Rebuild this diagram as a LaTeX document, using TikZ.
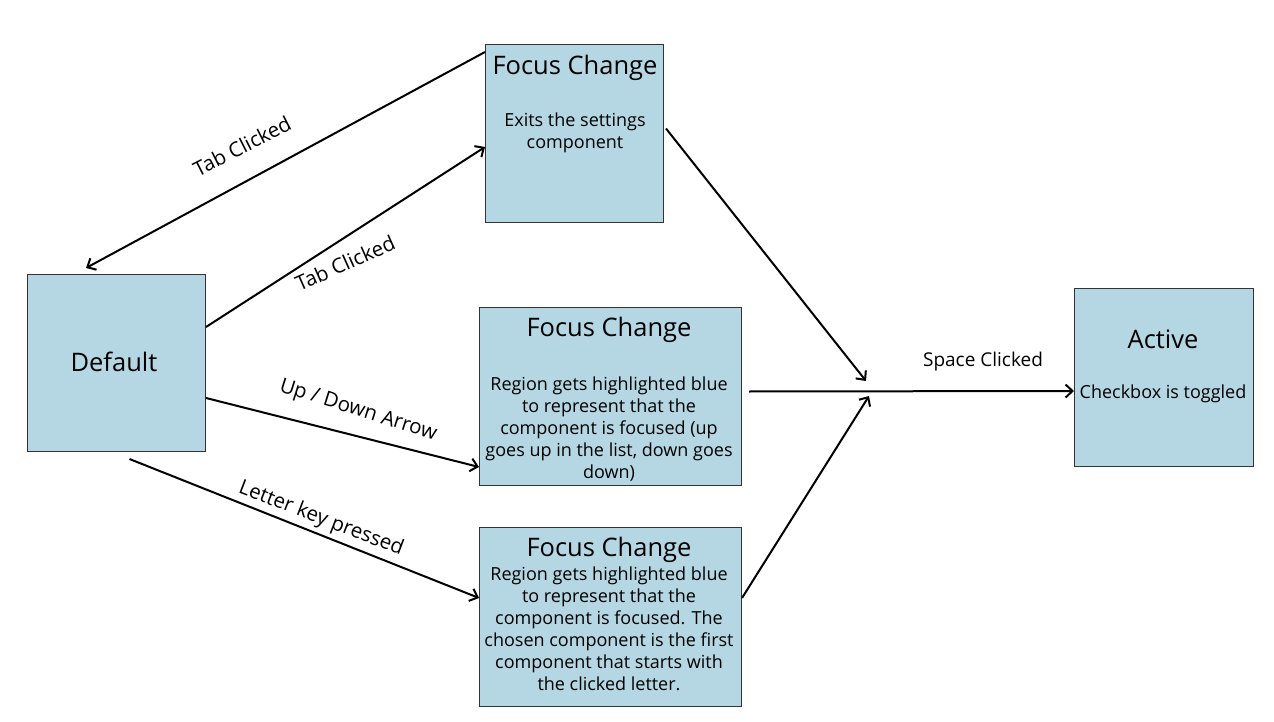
\documentclass[tikz,border=0pt]{standalone}
\usepackage{fontspec}
\setmainfont{Open Sans}
\usetikzlibrary{arrows.meta}
\definecolor{boxfill}{HTML}{B5D7E3}
\definecolor{boxline}{HTML}{333333}
\begin{document}
\begin{tikzpicture}[x=1pt,y=-1pt,
  box/.style={draw=boxline,fill=boxfill,line width=1pt,anchor=north west,inner sep=0pt},
  ttl/.style={font=\fontsize{25.5}{28}\selectfont,inner sep=0pt},
  bodytxt/.style={font=\fontsize{18}{22}\selectfont,align=center,inner sep=0pt,anchor=center},
  lbl/.style={font=\fontsize{20.5}{22}\selectfont,inner sep=0pt},
  conn/.style={line width=2pt,-{Straight Barb[length=7pt,width=13pt,line width=2pt]}}]
\useasboundingbox (0,0) rectangle (1274,722);
\fill[white] (0,0) rectangle (1274,722);
% boxes
\node[box,minimum width=178,minimum height=178] (f1) at (485,44) {};
\node[box,minimum width=178,minimum height=177] (def) at (27,274) {};
\node[box,minimum width=262,minimum height=178] (f2) at (479,307) {};
\node[box,minimum width=262,minimum height=179] (f3) at (479,527) {};
\node[box,minimum width=179,minimum height=178] (act) at (1074,288) {};
% texts
\node[ttl] (f1t) at (575,68) {Focus Change};
\node[bodytxt] (f1b) at (575,133) {Exits the settings\\component};
\node[ttl] (deft) at (114,362) {Default};
\node[ttl] (f2t) at (609,330) {Focus Change};
\node[bodytxt] (f2b) at (609,429) {Region gets highlighted blue\\to represent that the\\component is focused (up\\goes up in the list, down goes\\down)};
\node[ttl] (f3t) at (609,550) {Focus Change};
\node[bodytxt] (f3b) at (609,629) {Region gets highlighted blue\\to represent that the\\component is focused. The\\chosen component is the first\\component that starts with\\the clicked letter.};
\node[ttl] (actt) at (1163,339) {Active};
\node[bodytxt] (actb) at (1163,394) {Checkbox is toggled};
% junction points
\coordinate (j1) at (866,381);
\coordinate (j2) at (869,396);
\coordinate (dtop) at (86,268);
% connectors
\draw[conn] (f1.north west) ++(0,8) coordinate (f1a) (f1a) -- (dtop);
\draw[conn] (def.east) ++(0,-36) coordinate (da) (da) -- (f1.west |- 0,147) ;
\draw[conn] (def.east) ++(0,35) coordinate (db) (db) -- (f2.west |- 0,467);
\draw[conn] (def.south) ++(13,7) coordinate (dc) (dc) -- (f3.west |- 0,598);
\draw[conn] (f1.east) ++(2,-5) coordinate (f1r) (f1r) -- (j1);
\draw[conn] (f3.east) ++(0,-19) coordinate (f3r) (f3r) -- (j2);
\draw[conn] (f2.east) ++(7,-5) coordinate (f2r) (f2r) -- (act.west |- 0,391);
% labels
\node[lbl,rotate=27] (l1) at (242,146) {Tab Clicked};
\node[lbl,rotate=24] (l2) at (345,263) {Tab Clicked};
\node[lbl,rotate=-17.5] (l3) at (358,411) {Up / Down Arrow};
\node[lbl,rotate=-21] (l4) at (321,519) {Letter key pressed};
\node[lbl,font=\fontsize{19}{21}\selectfont] (l5) at (983,362) {Space Clicked};
\end{tikzpicture}
\end{document}
